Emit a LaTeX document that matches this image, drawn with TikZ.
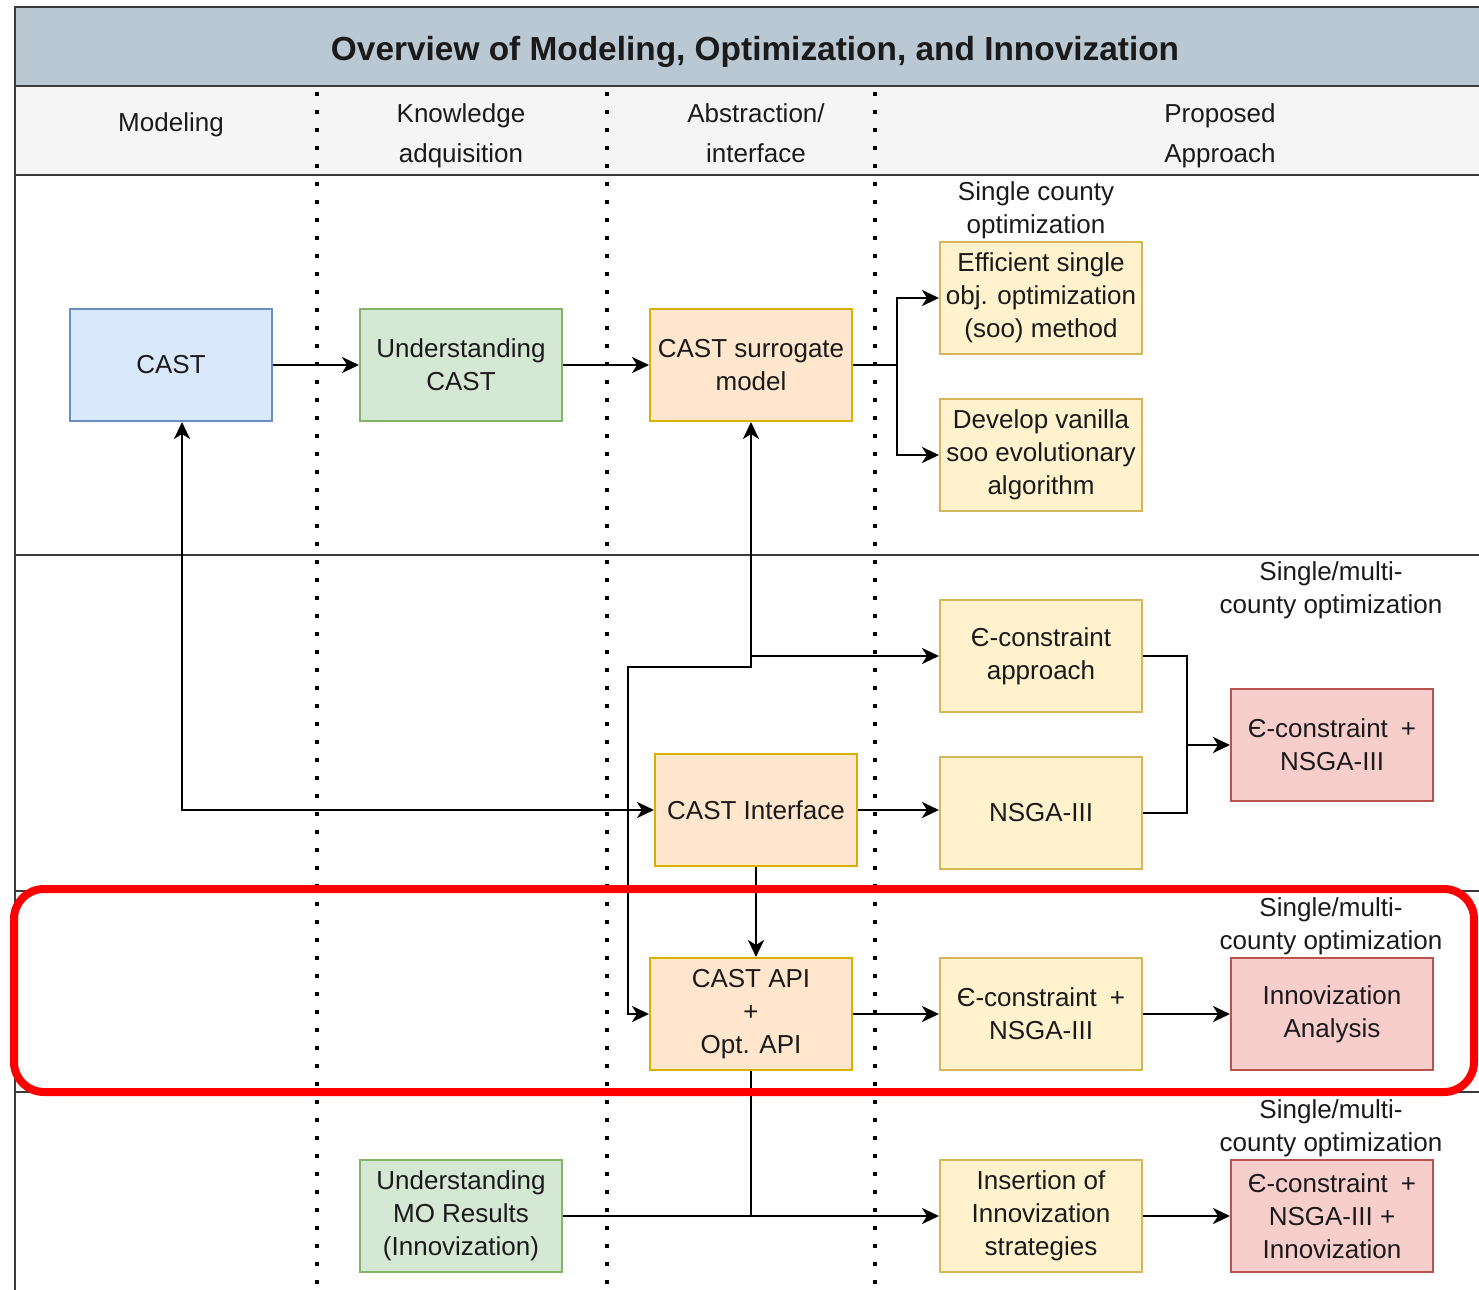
\documentclass[tikz,border=0pt]{standalone}
\usepackage{fontspec}
\setmainfont{Liberation Sans}
\usetikzlibrary{arrows.meta}
\definecolor{titlefill}{HTML}{BAC8D3}
\definecolor{headfill}{HTML}{F5F5F5}
\definecolor{framec}{HTML}{3A3A3A}
\definecolor{bluef}{HTML}{DAE8FC}\definecolor{blued}{HTML}{6C8EBF}
\definecolor{greenf}{HTML}{D5E8D4}\definecolor{greend}{HTML}{82B366}
\definecolor{orangef}{HTML}{FFE6CC}\definecolor{oranged}{HTML}{D7B000}
\definecolor{yellowf}{HTML}{FFF2CC}\definecolor{yellowd}{HTML}{D6B656}
\definecolor{redf}{HTML}{F8CECC}\definecolor{redd}{HTML}{B85450}
\definecolor{txt}{HTML}{1A1A1A}
\tikzset{
  box/.style={draw, line width=1pt, minimum width=101pt, minimum height=56pt,
    align=center, inner sep=1pt, text=txt, font=\fontsize{13}{16.5}\selectfont},
  bluebox/.style={box, fill=bluef, draw=blued},
  greenbox/.style={box, fill=greenf, draw=greend},
  orangebox/.style={box, fill=orangef, draw=oranged},
  yellowbox/.style={box, fill=yellowf, draw=yellowd},
  redbox/.style={box, fill=redf, draw=redd},
  lbl/.style={align=center, text=txt, font=\fontsize{13}{16.5}\selectfont, inner sep=0pt},
  hdr/.style={align=center, text=txt, font=\fontsize{13}{20}\selectfont, inner sep=0pt},
  conn/.style={line width=1.4pt, draw=black},
  arr/.style={conn, -{Stealth[length=8.5pt,width=8pt,inset=2.5pt]}},
  darr/.style={conn, {Stealth[length=8.5pt,width=8pt,inset=2.5pt]}-{Stealth[length=8.5pt,width=8pt,inset=2.5pt]}},
  sep/.style={line width=1.1pt, draw=framec},
  dotline/.style={line width=1.6pt, dash pattern=on 2.2pt off 6.8pt, draw=black}
}
\begin{document}
\begin{tikzpicture}[x=0.5pt, y=-0.5pt]
\useasboundingbox (0,0) rectangle (1479,1290);
% frame
\fill[titlefill] (15,7) rectangle (1479,86);
\fill[headfill] (15,86) rectangle (1479,175);
\draw[sep] (1479,7) -- (15,7) -- (15,1290);
\draw[sep] (15,86) -- (1479,86);
\draw[sep] (15,175) -- (1479,175);
\draw[sep] (15,555) -- (1479,555);
\draw[sep] (15,891) -- (1479,891);
\draw[sep] (15,1092) -- (1479,1092);
% dotted columns
\foreach \xx in {317,607,875} \draw[dotline] (\xx,92) -- (\xx,1290);
% title and headers
\node[font=\bfseries\fontsize{16.7}{19}\selectfont, text=txt] (title) at (755,52) {Overview of Modeling, Optimization, and Innovization};
\node[hdr] (h1) at (171,125) {Modeling};
\node[hdr] (h2) at (461,136) {Knowledge\\adquisition};
\node[hdr] (h3) at (756,133) {Abstraction/\\interface};
\node[hdr] (h4) at (1220,136) {Proposed\\Approach};
% labels
\node[lbl] (l1) at (1036,210) {Single county\\optimization};
\node[lbl] (l2) at (1331,590) {Single/multi-\\county optimization};
\node[lbl] (l3) at (1331,926) {Single/multi-\\county optimization};
\node[lbl] (l4) at (1331,1128) {Single/multi-\\county optimization};
% nodes
\node[bluebox] (cast) at (171,365) {CAST};
\node[greenbox] (ucast) at (461,365) {Understanding\\CAST};
\node[orangebox] (surr) at (751,365) {CAST surrogate\\model};
\node[yellowbox] (eff) at (1041,298) {Efficient single\\obj. optimization\\(soo) method};
\node[yellowbox] (dev) at (1041,455) {Develop vanilla\\soo evolutionary\\algorithm};
\node[yellowbox] (econ) at (1041,656) {Є-constraint\\approach};
\node[yellowbox] (nsga) at (1041,813) {NSGA-III};
\node[redbox] (ecn) at (1332,745) {Є-constraint\enspace+\\NSGA-III};
\node[orangebox] (iface) at (756,810) {CAST Interface};
\node[orangebox] (api) at (751,1014) {CAST API\\+\\Opt. API};
\node[yellowbox] (ecn2) at (1041,1014) {Є-constraint\enspace+\\NSGA-III};
\node[redbox] (innov) at (1332,1014) {Innovization\\Analysis};
\node[greenbox] (umo) at (461,1216) {Understanding\\MO Results\\(Innovization)};
\node[yellowbox] (ins) at (1041,1216) {Insertion of\\Innovization\\strategies};
\node[redbox] (fin) at (1332,1216) {Є-constraint\enspace+\\NSGA-III +\\Innovization};
% connectors
\draw[arr] (cast) -- (ucast);
\draw[arr] (ucast) -- (surr);
\coordinate (s1) at (897,365);
\draw[arr] (surr.east) -- (s1) |- (eff.west);
\draw[arr] (s1) |- (dev.west);
\draw[darr] ([xshift=5.5pt]cast.south) |- (iface.west);
\coordinate (j1) at (751,667);
\coordinate (j2) at (628,667);
\draw[darr] (surr.south) -- (j1) -- (j2) |- (api.west);
\draw[arr] (surr.south |- econ.west) -- (econ.west);
\draw[arr] (iface.east) -- (iface.east -| nsga.west);
\coordinate (m) at (1187,745);
\draw[conn] (econ.east) -| (m);
\draw[conn] (nsga.east) -| (m);
\draw[arr] (m) -- (ecn.west);
\draw[arr] (iface.south) -- (iface.south |- api.north);
\draw[arr] (api) -- (ecn2);
\draw[arr] (ecn2) -- (innov);
\draw[arr] (umo) -- (ins);
\draw[conn] (api.south) -- (api.south |- ins.west);
\draw[arr] (ins) -- (fin);
% highlight
\draw[line width=4pt, draw=red, rounded corners=15pt] (14,889) rectangle (1474,1092);
\end{tikzpicture}
\end{document}
